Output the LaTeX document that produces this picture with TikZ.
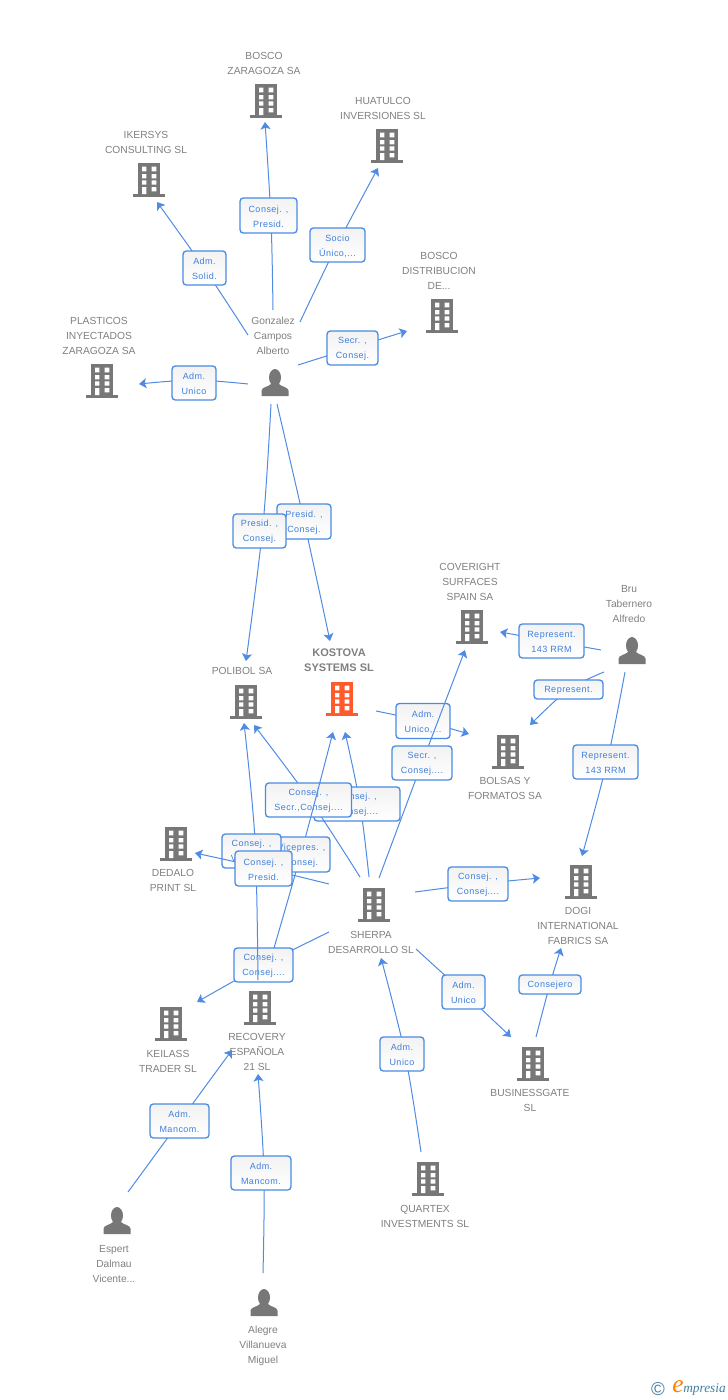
\documentclass[tikz,border=0pt]{standalone}
\usepackage{fontspec}
\setmainfont{Liberation Sans}
\newfontfamily\boxfont[LetterSpace=5.5]{Liberation Sans}
\newfontfamily\logofont{Liberation Serif}
\usetikzlibrary{arrows.meta}
\definecolor{linkblue}{HTML}{4F8BE3}
\definecolor{boxblue}{HTML}{4A8BE3}
\definecolor{txtblue}{HTML}{3F7FDC}
\definecolor{icongrey}{HTML}{777777}
\definecolor{lblgrey}{HTML}{808080}
\definecolor{mainorange}{HTML}{FF5A2B}
\definecolor{logoteal}{HTML}{3F7F9F}
\tikzset{
  x=0.75pt,y=-0.75pt,
  lbl/.style={font=\fontsize{7.7}{11.25}\selectfont,text=lblgrey,align=center,inner sep=0pt,yshift=-0.6pt},
  mainlbl/.style={lbl,font=\fontsize{8.25}{11.25}\selectfont\bfseries},
  relbox/.style={draw=boxblue,line width=1pt,rounded corners=2.5pt,top color=black!5,bottom color=white,
    font=\boxfont\fontsize{6.75}{11.25}\selectfont,text=txtblue,align=center,inner sep=0pt},
  linkline/.style={draw=linkblue,line width=0.75pt},
  linktip/.style={-{Stealth[length=5.5pt,width=7.5pt,inset=1.2pt]}},
  bldg/.pic={
    \fill[#1] (-11,0) rectangle (11,31);
    \fill[#1] (-16,31) rectangle (16,34);
    \fill[white] (-7,3.7) rectangle (-2.7,8.3) (2.7,3.7) rectangle (7.3,8.3)
      (-7,11) rectangle (-2.7,15.3) (2.7,11) rectangle (7.3,15.3)
      (-7,17.3) rectangle (-2.7,21.7) (2.7,17.3) rectangle (7.3,21.7)
      (-7,24) rectangle (-2.7,31) (2.7,24) rectangle (7.3,28.3);
  },
  person/.pic={
    \fill[icongrey] (0,8.5) ellipse (6 and 8.5);
    \fill[icongrey] (-13.5,27) -- (-13.5,21.5) .. controls (-13,18) and (-7,18) .. (-4,15)
      -- (4,15) .. controls (7,18) and (13,18) .. (13.5,21.5) -- (13.5,27) -- cycle;
  }
}
% id, start, via, tip, box centre, box width, box height, text
\newcommand\linkbox[8]{%
  \coordinate (#1-s) at (#2);
  \coordinate (#1-v) at (#3);
  \coordinate (#1-t) at (#4);
  \draw[linkline,linktip] plot[smooth,tension=0.55] coordinates {(#1-s) (#1-v) (#1-t)};
  \node[relbox,minimum width=#6*0.75pt,minimum height=#7*0.75pt] (#1) at (#5) {\rule{0pt}{6.5pt}#8};
}
\begin{document}
\begin{tikzpicture}
\useasboundingbox (0,0) rectangle (728,1400);

% icons
\pic (ibosco) at (266,84) {bldg=icongrey};
\pic (iikersys) at (149,163) {bldg=icongrey};
\pic (ihuatulco) at (387,129) {bldg=icongrey};
\pic (idistrib) at (442,299) {bldg=icongrey};
\pic (iplasticos) at (102,364) {bldg=icongrey};
\pic (ipolibol) at (246,685) {bldg=icongrey};
\pic (ikostova) at (342,682) {bldg=mainorange};
\pic (icoveright) at (472,610) {bldg=icongrey};
\pic (ibolsas) at (508,735) {bldg=icongrey};
\pic (idedalo) at (176,827) {bldg=icongrey};
\pic (isherpa) at (374,888) {bldg=icongrey};
\pic (idogi) at (581,865) {bldg=icongrey};
\pic (ikeilass) at (171,1007) {bldg=icongrey};
\pic (irecovery) at (260,991) {bldg=icongrey};
\pic (ibusiness) at (533,1047) {bldg=icongrey};
\pic (iquartex) at (428,1162) {bldg=icongrey};
\pic (igonzalez) at (275,369) {person};
\pic (ibru) at (632,637) {person};
\pic (iespert) at (117,1207) {person};
\pic (ialegre) at (264,1289) {person};

% labels
\node[lbl] (lbosco) at (264,62.5) {BOSCO\\ZARAGOZA SA};
\node[lbl] (likersys) at (146,141.5) {IKERSYS\\CONSULTING SL};
\node[lbl] (lhuatulco) at (383,107.5) {HUATULCO\\INVERSIONES SL};
\node[lbl] (ldistrib) at (439,270) {BOSCO\\DISTRIBUCION\\DE...};
\node[lbl] (lplasticos) at (99,335) {PLASTICOS\\INYECTADOS\\ZARAGOZA SA};
\node[lbl] (lgonzalez) at (273,335) {Gonzalez\\Campos\\Alberto};
\node[lbl] (lcoveright) at (470,581) {COVERIGHT\\SURFACES\\SPAIN SA};
\node[lbl] (lbru) at (629,603) {Bru\\Tabernero\\Alfredo};
\node[mainlbl] (lkostova) at (339,659.5) {KOSTOVA\\SYSTEMS SL};
\node[lbl] (lpolibol) at (242,670) {POLIBOL SA};
\node[lbl] (lbolsas) at (505,787.5) {BOLSAS Y\\FORMATOS SA};
\node[lbl] (ldedalo) at (173,879.5) {DEDALO\\PRINT SL};
\node[lbl] (lsherpa) at (371,941.5) {SHERPA\\DESARROLLO SL};
\node[lbl] (ldogi) at (578,925) {DOGI\\INTERNATIONAL\\FABRICS SA};
\node[lbl] (lkeilass) at (168,1060.5) {KEILASS\\TRADER SL};
\node[lbl] (lrecovery) at (257,1051) {RECOVERY\\ESPAÑOLA\\21 SL};
\node[lbl] (lbusiness) at (530,1099.5) {BUSINESSGATE\\SL};
\node[lbl] (lquartex) at (425,1215.5) {QUARTEX\\INVESTMENTS SL};
\node[lbl] (lespert) at (114,1263) {Espert\\Dalmau\\Vicente...};
\node[lbl] (lalegre) at (263,1345) {Alegre\\Villanueva\\Miguel};

% connectors with their boxes
\linkbox{r1}{273,310}{271,220}{265,122}{268.5,215.5}{57}{35}{Consej. ,\\Presid.}
\linkbox{r2}{248,335}{204,268}{157,202}{204.5,268}{43}{34}{Adm.\\Solid.}
\linkbox{r3}{300,322}{337,245}{378,168}{337.5,245}{55}{34}{Socio\\Único,...}
\linkbox{r4}{298,365}{352,348}{407,331}{352.5,348}{51}{34}{Secr. ,\\Consej.}
\linkbox{r5}{248,384}{194,380}{139,384}{194,383}{44}{34}{Adm.\\Unico}
\linkbox{r7}{277,404}{304,521}{330,641}{304,521.5}{54}{35}{Presid. ,\\Consej.}
\linkbox{r6}{271,404}{263,525}{246,661}{259.5,531}{53}{34}{Presid. ,\\Consej.}
\linkbox{r8}{601,650}{551,641}{500,632}{551.5,641}{65}{34}{Represent.\\143 RRM}
\linkbox{r9}{604,672}{568,690}{530,725}{568.5,689.5}{69}{19}{Represent.}
\linkbox{r10}{625,672}{607,762}{582,856}{605.5,762}{65}{34}{Represent.\\143 RRM}
\linkbox{r11}{376,711}{423,721}{469,734}{423,721}{54}{35}{Adm.\\Unico,...}
\linkbox{r12}{379,878}{422,763}{465,650}{422,763}{60}{34}{Secr. ,\\Consej....}
\linkbox{r14}{369,877}{360,804}{345,732}{357,804}{86}{34}{Consej. ,\\Consej....}
\linkbox{r13}{360,877}{310,800}{254,725}{308.5,800}{86}{34}{Consej. ,\\Secr.,Consej....}
\linkbox{r19}{415,892}{478,884}{540,878}{478,884}{60}{34}{Consej. ,\\Consej....}
\linkbox{r18}{329,932}{263,965}{197,1002}{263.5,965}{59}{34}{Consej. ,\\Consej....}
\linkbox{r16}{274,948}{302,850}{333,732}{301.5,854.5}{57}{35}{Vicepres. ,\\Consej.}
\linkbox{r17}{258,980}{255,840}{244,723}{251.5,851}{59}{34}{Consej. ,\\Vicepres.}
\linkbox{r15}{329,884}{263,868}{195,853}{263.5,868.5}{57}{35}{Consej. ,\\Presid.}
\linkbox{r20}{416,949}{463,992}{511,1037}{463.5,992}{43}{34}{Adm.\\Unico}
\linkbox{r21}{536,1037}{550,984}{561,948}{550,984.5}{62}{19}{Consejero}
\linkbox{r22}{421,1152}{405,1054}{381,958}{402,1054}{44}{34}{Adm.\\Unico}
\linkbox{r23}{128,1192}{180,1121}{232,1050}{179.5,1121}{59}{34}{Adm.\\Mancom.}
\linkbox{r24}{263,1273}{264,1173}{258,1074}{261,1173}{60}{34}{Adm.\\Mancom.}

% footer
\node[inner sep=0pt,text=logoteal,font=\fontsize{14}{14}\selectfont] (copyr) at (658,1389.5) {©};
\node[inner sep=0pt,text=orange,font=\logofont\itshape\fontsize{19}{19}\selectfont] (logoe) at (678,1387) {e};
\node[inner sep=0pt,text=logoteal,anchor=west,font=\logofont\itshape\fontsize{10}{10}\selectfont] (logot) at (683,1389) {mpresia};
\end{tikzpicture}
\end{document}
